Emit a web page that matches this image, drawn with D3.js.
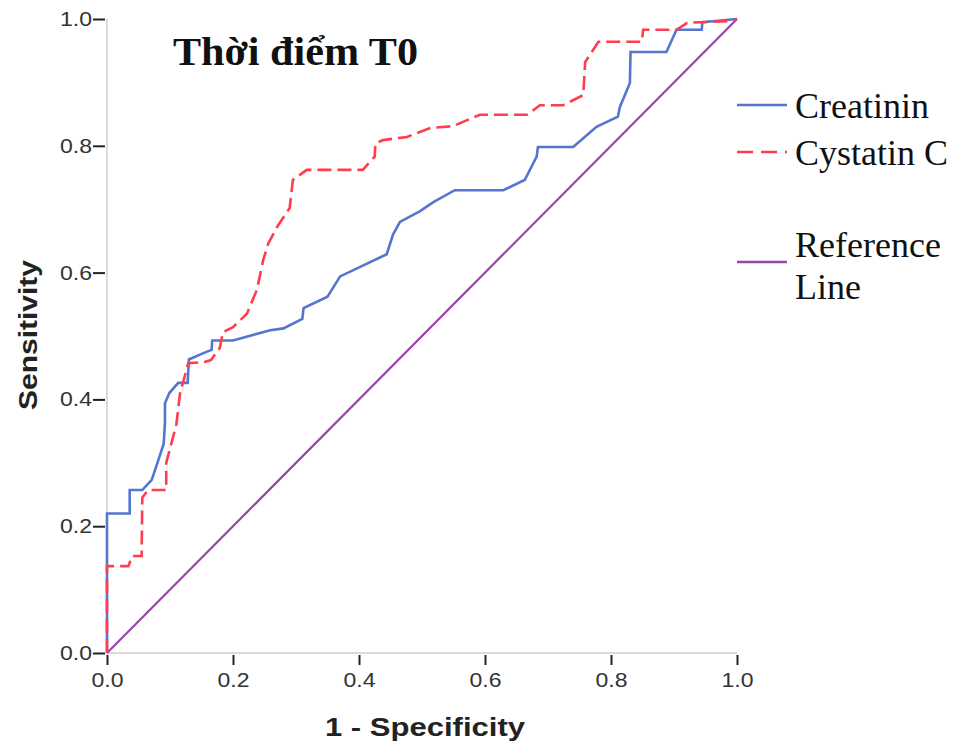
<!DOCTYPE html>
<html>
<head>
<meta charset="utf-8">
<script src="https://cdn.jsdelivr.net/npm/d3@7"></script>
<style>
  body { margin: 0; background: #fff; }
  svg { display: block; }
</style>
</head>
<body>
<div id="chart-area"></div>
<script>
// ROC points (1 - specificity, sensitivity)
let creatininX = [0, 0, 0.036, 0.036, 0.056, 0.071, 0.08, 0.09, 0.092, 0.092, 0.099, 0.113, 0.128, 0.13, 0.153, 0.166, 0.167, 0.2, 0.259, 0.28, 0.31, 0.312, 0.35, 0.37, 0.444, 0.454, 0.465, 0.497, 0.518, 0.552, 0.629, 0.663, 0.682, 0.684, 0.74, 0.777, 0.811, 0.814, 0.83, 0.831, 0.888, 0.904, 0.944, 0.945, 1];
let creatininY = [0, 0.22, 0.22, 0.257, 0.257, 0.273, 0.3, 0.33, 0.364, 0.394, 0.41, 0.426, 0.426, 0.463, 0.473, 0.478, 0.493, 0.493, 0.509, 0.512, 0.527, 0.544, 0.562, 0.594, 0.629, 0.66, 0.68, 0.697, 0.711, 0.73, 0.73, 0.746, 0.783, 0.798, 0.798, 0.83, 0.846, 0.861, 0.899, 0.948, 0.948, 0.983, 0.983, 0.995, 1];

let cystatinX = [0, 0, 0.034, 0.04, 0.055, 0.056, 0.065, 0.094, 0.094, 0.11, 0.116, 0.129, 0.155, 0.165, 0.179, 0.184, 0.2, 0.222, 0.238, 0.248, 0.256, 0.27, 0.29, 0.295, 0.317, 0.406, 0.425, 0.426, 0.438, 0.476, 0.513, 0.549, 0.592, 0.667, 0.687, 0.724, 0.756, 0.759, 0.78, 0.849, 0.851, 0.904, 0.921, 0.994, 1];
let cystatinY = [0, 0.137, 0.137, 0.153, 0.153, 0.245, 0.257, 0.257, 0.3, 0.36, 0.41, 0.457, 0.459, 0.462, 0.481, 0.506, 0.514, 0.535, 0.573, 0.62, 0.646, 0.672, 0.702, 0.746, 0.762, 0.762, 0.783, 0.804, 0.809, 0.814, 0.828, 0.831, 0.849, 0.849, 0.864, 0.864, 0.88, 0.932, 0.964, 0.964, 0.983, 0.983, 0.994, 0.997, 1];

let refX = [0, 1];
let refY = [0, 1];

let tickValues = [0, 0.2, 0.4, 0.6, 0.8, 1.0];
let seriesNames = ["Creatinin", "Cystatin C", "Reference Line"];

let margin = { top: 19, right: 229, bottom: 96, left: 107 },
    width = 966 - margin.left - margin.right,
    height = 749 - margin.top - margin.bottom;

let svg = d3.select("#chart-area").append("svg")
    .attr("width", 966)
    .attr("height", 749);

let group = svg.append("g")
    .attr("transform", "translate(" + margin.left + "," + margin.top + ")");

let x = d3.scaleLinear().domain([0, 1]).range([0, width]);
let y = d3.scaleLinear().domain([0, 1]).range([height, 0]);

let sansFont = "Arial, 'Liberation Sans', sans-serif";
let serifFont = "'Liberation Serif', 'Times New Roman', serif";

// axes
let axisBottom = d3.axisBottom(x)
    .tickValues(tickValues)
    .tickSize(0)
    .tickFormat(d3.format(".1f"));
let gx = group.append("g")
    .attr("transform", "translate(0," + height + ")")
    .call(axisBottom);
gx.select(".domain").attr("stroke", "#cfcfcf").attr("stroke-width", 1.5)
    .attr("d", "M0,0H" + width);
gx.selectAll(".tick line")
    .attr("y1", 2).attr("y2", 12)
    .attr("stroke", "#222").attr("stroke-width", 2);
gx.selectAll("text")
    .attr("y", 20)
    .attr("dy", "0.71em")
    .attr("font-family", sansFont)
    .attr("font-size", "20px")
    .attr("textLength", 32)
    .attr("lengthAdjust", "spacingAndGlyphs")
    .attr("fill", "#333");

let axisLeft = d3.axisLeft(y)
    .tickValues(tickValues)
    .tickSize(0)
    .tickFormat(d3.format(".1f"));
let gy = group.append("g").call(axisLeft);
gy.select(".domain").attr("stroke", "#cfcfcf").attr("stroke-width", 1.5)
    .attr("d", "M0,0V" + height);
gy.selectAll(".tick line")
    .attr("x1", -2).attr("x2", -14)
    .attr("stroke", "#222").attr("stroke-width", 2);
gy.selectAll("text")
    .attr("x", -15)
    .attr("font-family", sansFont)
    .attr("font-size", "20px")
    .attr("textLength", 32)
    .attr("lengthAdjust", "spacingAndGlyphs")
    .attr("fill", "#333");

// axis titles
group.append("text")
    .attr("x", width / 2 + 3)
    .attr("y", height + 83)
    .attr("text-anchor", "middle")
    .attr("font-family", sansFont)
    .attr("font-weight", "bold")
    .attr("font-size", "26px")
    .attr("textLength", 200)
    .attr("lengthAdjust", "spacingAndGlyphs")
    .attr("fill", "#222")
    .text("1 - Specificity");

group.append("text")
    .attr("x", -(height / 2) + 1)
    .attr("y", -70)
    .attr("transform", "rotate(-90)")
    .attr("text-anchor", "middle")
    .attr("font-family", sansFont)
    .attr("font-weight", "bold")
    .attr("font-size", "25px")
    .attr("textLength", 150)
    .attr("lengthAdjust", "spacingAndGlyphs")
    .attr("fill", "#222")
    .text("Sensitivity");

// title
svg.append("text")
    .attr("x", 173)
    .attr("y", 65)
    .attr("font-family", serifFont)
    .attr("font-weight", "bold")
    .attr("font-size", "40px")
    .attr("textLength", 245)
    .attr("lengthAdjust", "spacingAndGlyphs")
    .attr("fill", "#111")
    .text("Thời điểm T0");

let line = d3.line()
    .x((d) => { return x(d[0]); })
    .y((d) => { return y(d[1]); });

let colors = ["#5575d0", "#ff3d4c", "#9944a8"];
let dashes = [null, "14,6", null];

let series = [
    d3.zip(creatininX, creatininY),
    d3.zip(cystatinX, cystatinY),
    d3.zip(refX, refY)
];

// draw reference first, then the curves
[2, 0, 1].forEach((i) => {
    group.append("path")
        .datum(series[i])
        .attr("d", line)
        .attr("fill", "none")
        .attr("stroke", colors[i])
        .attr("stroke-width", i == 2 ? 2.2 : 2.6)
        .attr("stroke-dasharray", dashes[i]);
});

// legend
let legendY = [105, 152, 262];
let legend = svg.append("g");
seriesNames.forEach((name, i) => {
    legend.append("line")
        .attr("x1", 737).attr("x2", 787)
        .attr("y1", legendY[i]).attr("y2", legendY[i])
        .attr("stroke", colors[i])
        .attr("stroke-width", 2.6)
        .attr("stroke-dasharray", i == 1 ? "16,8" : null);
    let t = legend.append("text")
        .attr("x", 795)
        .attr("font-family", serifFont)
        .attr("font-size", "36px")
        .attr("fill", "#111");
    if (i == 2) {
        t.append("tspan").attr("x", 795).attr("y", 257).text("Reference");
        t.append("tspan").attr("x", 795).attr("y", 299).text("Line");
    } else {
        t.attr("y", legendY[i] + 13).text(name);
    }
});
</script>
</body>
</html>
